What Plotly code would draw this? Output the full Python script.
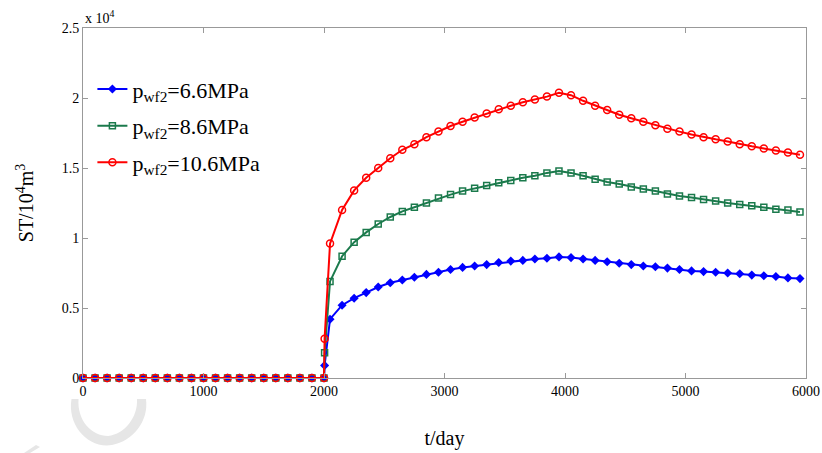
import plotly.graph_objects as go

# time points (days)
t_pre = [0, 100, 200, 300, 400, 500, 600, 700, 800, 900, 1000, 1100, 1200, 1300, 1400,
         1500, 1600, 1700, 1800, 1900, 2000]
t_post = [2005] + [2050 + 100 * i for i in range(40)]
t = t_pre + t_post

zeros = [0] * len(t_pre)

# ST values (x 10^4 m^3)
st_66 = zeros + [0.09, 0.42, 0.52, 0.57, 0.61, 0.65, 0.68, 0.70, 0.72, 0.74, 0.755,
                 0.775, 0.79, 0.80, 0.81, 0.825, 0.835, 0.84, 0.85, 0.855, 0.865,
                 0.86, 0.85, 0.84, 0.83, 0.82, 0.81, 0.80, 0.795, 0.785, 0.775,
                 0.765, 0.76, 0.755, 0.75, 0.745, 0.735, 0.73, 0.725, 0.715, 0.71]
st_86 = zeros + [0.18, 0.69, 0.87, 0.97, 1.04, 1.10, 1.15, 1.19, 1.22, 1.25, 1.285,
                 1.31, 1.335, 1.355, 1.375, 1.395, 1.41, 1.43, 1.445, 1.465, 1.478,
                 1.465, 1.445, 1.42, 1.40, 1.385, 1.365, 1.35, 1.335, 1.315, 1.30,
                 1.29, 1.275, 1.265, 1.25, 1.24, 1.23, 1.22, 1.205, 1.20, 1.185]
st_106 = zeros + [0.28, 0.96, 1.20, 1.34, 1.43, 1.50, 1.57, 1.63, 1.67, 1.72, 1.76,
                  1.80, 1.83, 1.86, 1.89, 1.92, 1.945, 1.97, 1.99, 2.01, 2.037,
                  2.02, 1.98, 1.945, 1.915, 1.88, 1.855, 1.83, 1.805, 1.78, 1.76,
                  1.74, 1.72, 1.705, 1.69, 1.67, 1.655, 1.64, 1.625, 1.61, 1.595]

names = ["p<sub>wf2</sub>=6.6MPa", "p<sub>wf2</sub>=8.6MPa", "p<sub>wf2</sub>=10.6MPa"]
x_ticks = [0, 1000, 2000, 3000, 4000, 5000, 6000]
y_ticks = [0, 0.5, 1, 1.5, 2, 2.5]
y_tick_text = ["0", "0.5", "1", "1.5", "2", "2.5"]

font = "Liberation Serif, Times New Roman, serif"

# plot-area geometry in pixels (for the decorative watermark only)
L, T, W, H = 83, 28, 723, 350


def px(xp, yp):
    return (xp - L) / W, (T + H - yp) / H


def path(points):
    out = []
    for cmd, pts in points:
        coords = " ".join("%.4f,%.4f" % px(*p) for p in pts)
        out.append(cmd + " " + coords)
    return " ".join(out) + " Z"


crescent = path([
    ("M", [(71.5, 399)]),
    ("C", [(67, 425), (88, 449), (112, 445)]),
    ("C", [(133, 441), (149, 421), (146, 399)]),
    ("L", [(137, 399)]),
    ("C", [(138, 417), (125, 434), (108, 436)]),
    ("C", [(92, 436), (77, 421), (78.5, 399)]),
])
stroke = path([
    ("M", [(24, 453)]),
    ("L", [(36, 445)]),
    ("L", [(40, 447)]),
    ("L", [(30, 453)]),
])

fig = go.Figure()
fig.add_trace(go.Scatter(x=t, y=st_66, name=names[0], mode="lines+markers", legendgroup="a",
                         line=dict(color="#0000ff", width=2),
                         marker=dict(symbol="diamond", size=7, color="#0000ff"),
                         cliponaxis=False))
fig.add_trace(go.Scatter(x=t, y=st_86, name=names[1], mode="lines+markers", legendgroup="b",
                         line=dict(color="#1b7a4c", width=2),
                         marker=dict(symbol="square-open", size=6, color="#1b7a4c",
                                     line=dict(width=1.5)),
                         cliponaxis=False))
fig.add_trace(go.Scatter(x=t, y=st_106, name=names[2], mode="lines+markers", legendgroup="c",
                         line=dict(color="#ff0000", width=2),
                         marker=dict(symbol="circle-open", size=7, color="#ff0000",
                                     line=dict(width=1.5)),
                         cliponaxis=False))

axis_common = dict(showline=True, linecolor="#999999", linewidth=1, mirror="ticks",
                   ticks="inside", ticklen=5, tickcolor="#999999", showgrid=False,
                   zeroline=False, automargin=False,
                   tickfont=dict(family=font, size=14, color="black"))

fig.update_layout(
    width=822, height=453,
    margin=dict(l=L, r=822 - L - W, t=T, b=453 - T - H),
    paper_bgcolor="white", plot_bgcolor="white",
    font=dict(family=font, color="black"),
    showlegend=True,
    legend=dict(x=0.013, y=0.885, xanchor="left", yanchor="top",
                font=dict(family=font, size=22, color="black"),
                bgcolor="rgba(0,0,0,0)", itemwidth=30, tracegroupgap=5),
    xaxis=dict(range=[0, 6000], tickvals=x_ticks,
               title=dict(text="t/day", font=dict(family=font, size=20), standoff=33),
               **axis_common),
    yaxis=dict(range=[0, 2.5], tickvals=y_ticks, ticktext=y_tick_text,
               title=dict(text="ST/10<sup>4</sup>m<sup>3</sup>", font=dict(family=font, size=20),
                          standoff=22),
               **axis_common),
    annotations=[dict(text="x 10<sup>4</sup>", x=0, y=1, xref="paper", yref="paper",
                      xanchor="left", yanchor="bottom", showarrow=False,
                      font=dict(family=font, size=14, color="black"))],
    shapes=[
        dict(type="path", path=crescent, xref="paper", yref="paper",
             fillcolor="#e6e6e6", line=dict(width=0), layer="below"),
        dict(type="path", path=stroke, xref="paper", yref="paper",
             fillcolor="#e6e6e6", line=dict(width=0), layer="below"),
    ],
)

fig.write_html("out.html", config={"displayModeBar": False},
               post_script="document.body.style.margin='0';")
